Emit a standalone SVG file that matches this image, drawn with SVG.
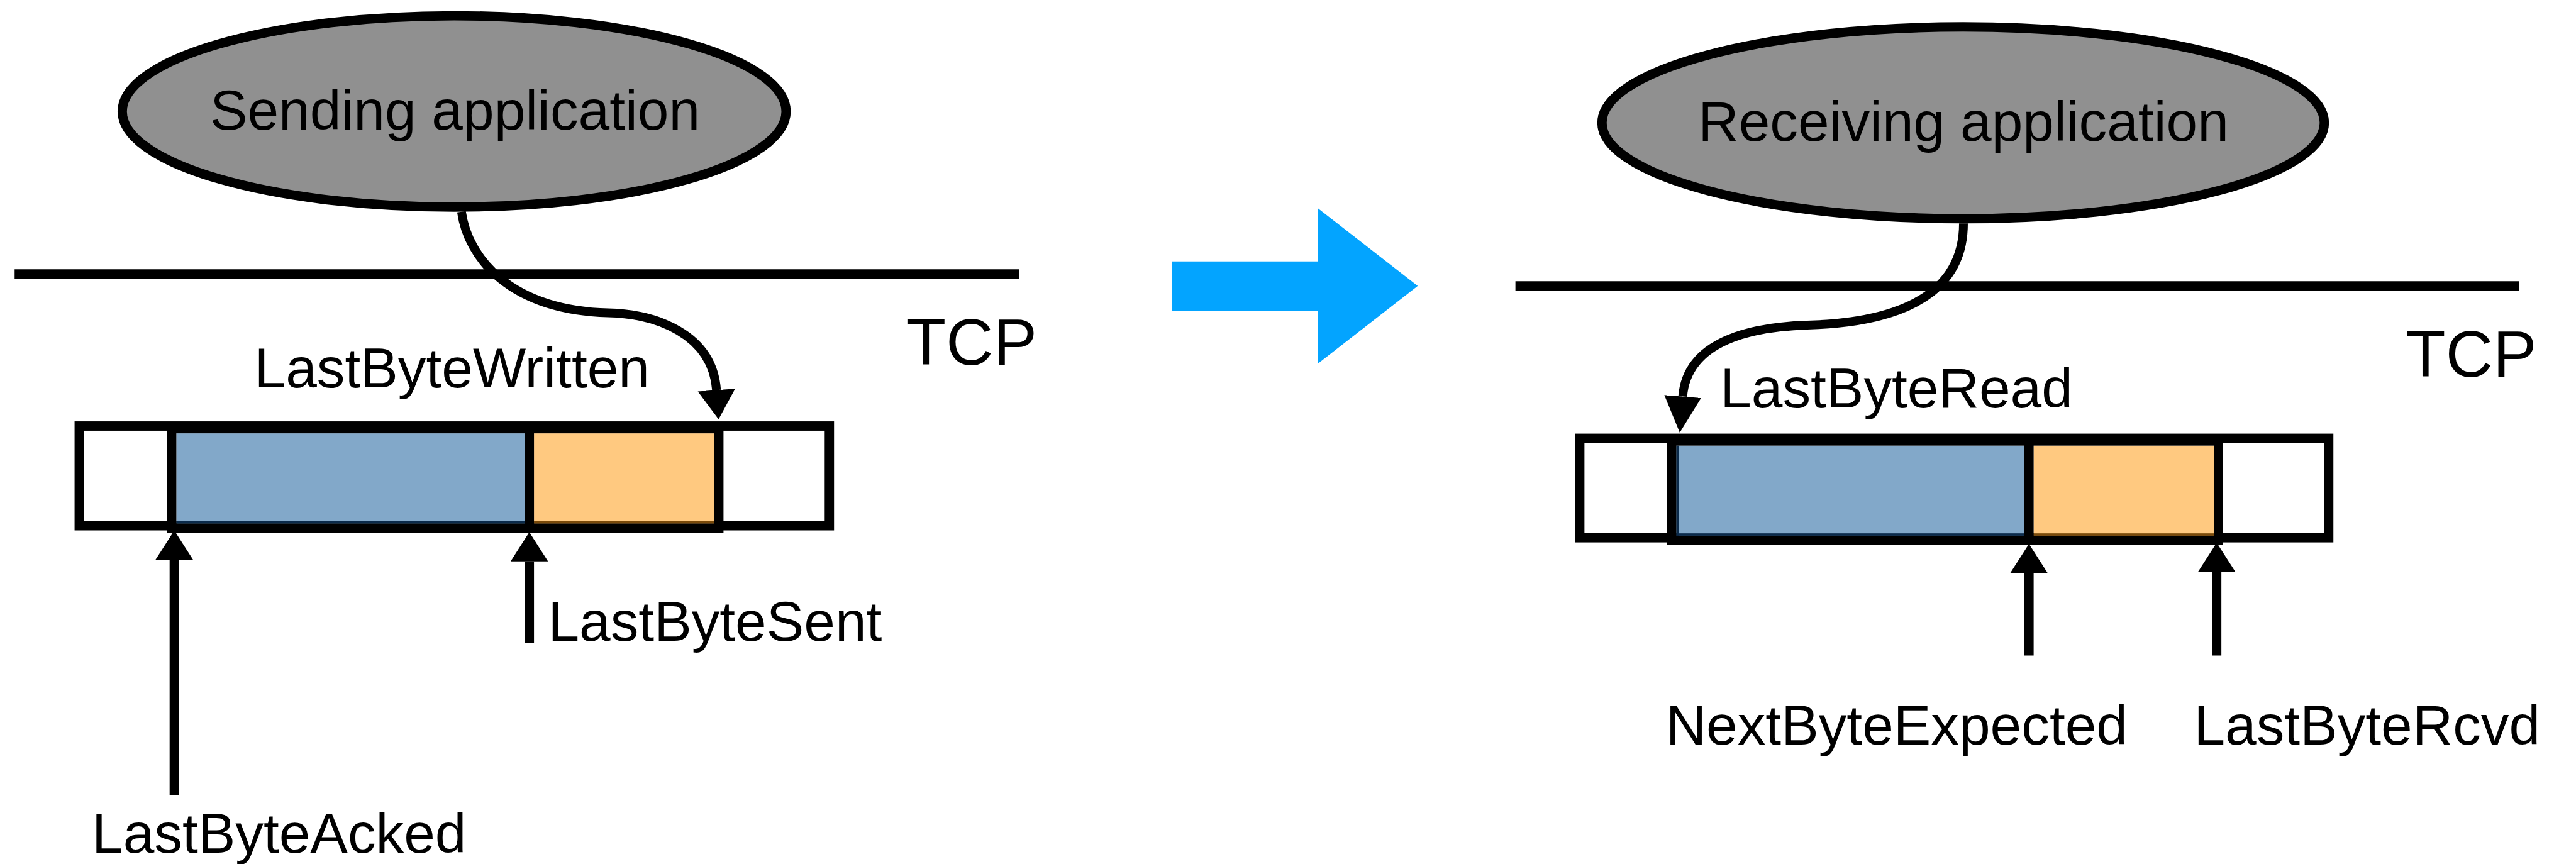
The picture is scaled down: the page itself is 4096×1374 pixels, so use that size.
<svg xmlns="http://www.w3.org/2000/svg" width="4096" height="1374" viewBox="0 0 4096 1374">
  <style>
    .app { fill: #909090; stroke: #000; stroke-width: 16; }
    .label { font-family: "Liberation Sans", Arial, Helvetica, sans-serif; font-size: 96px; fill: #000; }
    .tcp { font-family: "Liberation Sans", Arial, Helvetica, sans-serif; font-size: 112px; fill: #000; }
    .boundary { stroke: #000; stroke-width: 16; fill: none; }
    .frame { fill: #fff; stroke: #000; stroke-width: 16; }
    .window { fill: none; stroke: #000; stroke-width: 16; }
    .divider { stroke: #000; stroke-width: 16; }
    .acked { fill: #82A8C9; }
    .pending { fill: #FFC980; }
    .acked-edge { fill: #0B2B4B; }
    .pending-edge { fill: #7A4A0A; }
    .link { fill: none; stroke: #000; stroke-width: 15; }
    .pointer { fill: none; stroke: #000; stroke-width: 16; }
  </style>
  <defs>
    <marker id="head" markerUnits="userSpaceOnUse" viewBox="0 0 50 66" markerWidth="50" markerHeight="66" refX="0" refY="33" orient="auto">
      <path d="M0,1 L50,33 L0,65 Z" fill="#000"/>
    </marker>
    <marker id="headLong" markerUnits="userSpaceOnUse" viewBox="0 0 62 66" markerWidth="62" markerHeight="66" refX="0" refY="33" orient="auto">
      <path d="M0,1.5 L62,33 L0,64.5 Z" fill="#000"/>
    </marker>
  </defs>
  <rect width="4096" height="1374" fill="#fff"/>
  <g transform="scale(0.93)">
    <!-- application / TCP boundaries -->
    <g id="boundaries">
      <line class="boundary" x1="25" y1="468.5" x2="1743" y2="468.5"/>
      <line class="boundary" x1="2591" y1="489" x2="4307" y2="489"/>
      <text class="tcp" x="1549" y="624">TCP</text>
      <text class="tcp" x="4113" y="644">TCP</text>
    </g>

    <!-- sender side -->
    <g id="sending-app">
      <ellipse class="app" cx="776.5" cy="190.5" rx="567.5" ry="163.5"/>
      <text class="label" x="778" y="222" text-anchor="middle">Sending application</text>
    </g>
    <g id="send-buffer">
      <rect class="frame" x="135.5" y="728.5" width="1282.5" height="170.5"/>
      <rect class="acked" x="301.5" y="741" width="595.5" height="154"/>
      <rect class="acked-edge" x="301.5" y="891" width="595.5" height="4"/>
      <rect class="pending" x="913" y="741" width="308" height="154"/>
      <rect class="pending-edge" x="913" y="891" width="308" height="4"/>
      <rect class="window" x="293.5" y="733" width="935.5" height="170.5"/>
      <line class="divider" x1="905" y1="733" x2="905" y2="903.5"/>
    </g>

    <!-- receiver side -->
    <g id="receiving-app">
      <ellipse class="app" cx="3356.5" cy="210" rx="617.5" ry="164"/>
      <text class="label" x="3357" y="241" text-anchor="middle">Receiving application</text>
    </g>
    <g id="recv-buffer">
      <rect class="frame" x="2701" y="749.5" width="1280.5" height="170"/>
      <rect class="acked" x="2866" y="762" width="595" height="154"/>
      <rect class="acked-edge" x="2866" y="912" width="595" height="4"/>
      <rect class="acked-edge" x="2866" y="762" width="4" height="154"/>
      <rect class="pending" x="3477" y="762" width="308" height="154"/>
      <rect class="pending-edge" x="3477" y="912" width="308" height="4"/>
      <rect class="window" x="2858" y="754" width="935" height="170"/>
      <line class="divider" x1="3469" y1="754" x2="3469" y2="924"/>
    </g>

    <!-- pointers into the buffers -->
    <g id="connectors">
      <path class="link" d="M789,362 C800,440 870,530 1040,535 C1120,537 1218,570 1225,667" marker-end="url(#head)"/>
      <path class="pointer" d="M298,1360 V957" marker-end="url(#head)"/>
      <path class="pointer" d="M905,1100 V960" marker-end="url(#head)"/>
      <path class="link" d="M3357,382 C3357,470 3300,550 3090,556 C3000,559 2885,580 2877,678" marker-end="url(#headLong)"/>
      <path class="pointer" d="M3469,1121 V980" marker-end="url(#head)"/>
      <path class="pointer" d="M3790,1121 V978" marker-end="url(#head)"/>
    </g>
    <g id="pointer-labels">
      <text class="label" x="435" y="662">LastByteWritten</text>
      <text class="label" x="937" y="1096">LastByteSent</text>
      <text class="label" x="157" y="1458">LastByteAcked</text>
      <text class="label" x="2941" y="697">LastByteRead</text>
      <text class="label" x="2848" y="1273">NextByteExpected</text>
      <text class="label" x="3751" y="1273">LastByteRcvd</text>
    </g>

    <!-- sender to receiver -->
    <g id="transition-arrow">
      <polygon points="2004,447 2253,447 2253,356 2424,489 2253,622 2253,532 2004,532" fill="#03A4FF"/>
    </g>
  </g>
</svg>
